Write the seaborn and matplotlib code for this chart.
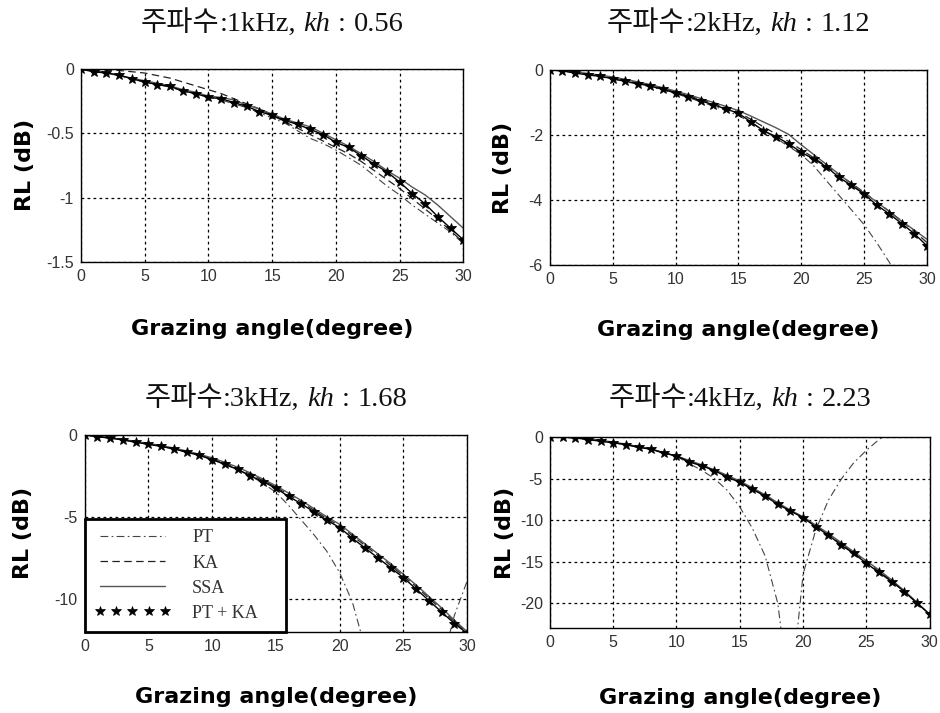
import matplotlib
matplotlib.use("Agg")
import matplotlib.pyplot as plt
import seaborn as sns
import pandas as pd
from matplotlib.offsetbox import TextArea, HPacker, AnnotationBbox
from matplotlib.lines import Line2D

# ---------------- data ----------------
angles = list(range(0, 31))
x_ticks = [0, 5, 10, 15, 20, 25, 30]
x_tick_labels = ["0", "5", "10", "15", "20", "25", "30"]

freq_labels = ["1kHz", "2kHz", "3kHz", "4kHz"]
kh_labels = ["0.56", "1.12", "1.68", "2.23"]
model_names = ["PT", "KA", "SSA", "PT + KA"]

y_limits = [(-1.5, 0), (-6, 0), (-12, 0), (-23, 0)]
y_ticks = [[0, -0.5, -1, -1.5], [0, -2, -4, -6], [0, -5, -10], [0, -5, -10, -15, -20]]
y_tick_labels = [["0", "-0.5", "-1", "-1.5"], ["0", "-2", "-4", "-6"],
                 ["0", "-5", "-10"], ["0", "-5", "-10", "-15", "-20"]]

# 1 kHz
pt_ka_1k = [0, -0.02, -0.03, -0.045, -0.075, -0.10, -0.12, -0.135, -0.17, -0.19, -0.22,
            -0.23, -0.26, -0.29, -0.33, -0.36, -0.40, -0.43, -0.47, -0.51, -0.57,
            -0.61, -0.675, -0.74, -0.80, -0.88, -0.97, -1.05, -1.15, -1.24, -1.33]
ssa_1k = [0, -0.01, -0.03, -0.05, -0.07, -0.09, -0.11, -0.13, -0.16, -0.18, -0.21,
          -0.22, -0.24, -0.28, -0.31, -0.35, -0.39, -0.42, -0.45, -0.50, -0.55,
          -0.60, -0.66, -0.72, -0.79, -0.85, -0.92, -0.98, -1.06, -1.15, -1.24]
ka_1k = [0, 0, -0.01, -0.01, -0.02, -0.03, -0.05, -0.07, -0.10, -0.13, -0.16,
         -0.19, -0.23, -0.27, -0.31, -0.36, -0.41, -0.46, -0.51, -0.56, -0.61,
         -0.66, -0.72, -0.79, -0.86, -0.93, -1.01, -1.09, -1.17, -1.26, -1.35]
pt_1k = [0, -0.02, -0.03, -0.05, -0.08, -0.10, -0.12, -0.14, -0.17, -0.19, -0.22,
         -0.24, -0.27, -0.30, -0.34, -0.38, -0.42, -0.48, -0.54, -0.58, -0.63,
         -0.69, -0.75, -0.83, -0.91, -0.98, -1.06, -1.13, -1.20, -1.27, -1.36]

# 2 kHz
pt_ka_2k = [0, -0.03, -0.10, -0.15, -0.20, -0.27, -0.35, -0.42, -0.50, -0.60, -0.71,
            -0.82, -0.95, -1.07, -1.20, -1.33, -1.60, -1.87, -2.05, -2.27, -2.53,
            -2.74, -2.97, -3.30, -3.55, -3.81, -4.15, -4.42, -4.72, -5.03, -5.40]
ssa_2k = [0, -0.02, -0.06, -0.11, -0.16, -0.22, -0.29, -0.37, -0.45, -0.55, -0.65,
          -0.76, -0.88, -1.00, -1.12, -1.25, -1.42, -1.60, -1.78, -1.98, -2.30,
          -2.60, -2.90, -3.20, -3.50, -3.78, -4.05, -4.35, -4.65, -4.92, -5.20]
ka_2k = [0, -0.02, -0.07, -0.12, -0.18, -0.25, -0.32, -0.40, -0.48, -0.57, -0.68,
         -0.79, -0.91, -1.03, -1.16, -1.30, -1.52, -1.75, -1.97, -2.20, -2.45,
         -2.70, -2.95, -3.22, -3.48, -3.76, -4.05, -4.34, -4.64, -4.96, -5.30]
pt_2k = [0, -0.03, -0.09, -0.15, -0.21, -0.28, -0.36, -0.44, -0.52, -0.62, -0.73,
         -0.85, -0.98, -1.11, -1.25, -1.40, -1.62, -1.86, -2.10, -2.35, -2.60,
         -2.95, -3.40, -3.85, -4.30, -4.75, -5.30, -5.90, -6.60, -7.40, -8.20]

# 3 kHz
pt_ka_3k = [0, -0.10, -0.20, -0.30, -0.45, -0.57, -0.70, -0.85, -1.05, -1.25, -1.50,
            -1.80, -2.10, -2.50, -2.85, -3.25, -3.75, -4.20, -4.70, -5.20, -5.65,
            -6.30, -6.90, -7.50, -8.10, -8.70, -9.40, -10.10, -10.80, -11.50, -12.10]
ssa_3k = [0, -0.08, -0.17, -0.27, -0.40, -0.52, -0.65, -0.80, -0.98, -1.18, -1.40,
          -1.67, -1.97, -2.32, -2.70, -3.10, -3.55, -4.00, -4.50, -5.00, -5.45,
          -6.05, -6.65, -7.25, -7.85, -8.50, -9.15, -9.85, -10.55, -11.30, -12.00]
ka_3k = [0, -0.09, -0.18, -0.29, -0.42, -0.55, -0.68, -0.83, -1.02, -1.22, -1.45,
         -1.73, -2.03, -2.40, -2.78, -3.18, -3.65, -4.10, -4.60, -5.10, -5.55,
         -6.15, -6.75, -7.35, -7.95, -8.60, -9.25, -9.95, -10.65, -11.40, -12.05]
pt_3k = [0, -0.10, -0.20, -0.30, -0.45, -0.57, -0.70, -0.85, -1.05, -1.25, -1.50,
         -1.80, -2.10, -2.50, -2.95, -3.50, -4.30, -5.20, -6.10, -7.10, -8.40,
         -10.20, -13.00, -17.00, -22.00, -28.00, -24.00, -18.00, -14.00, -11.00, -8.90]

# 4 kHz
pt_ka_4k = [0, 0, -0.10, -0.30, -0.50, -0.70, -0.90, -1.25, -1.45, -1.95, -2.25,
            -3.00, -3.45, -4.05, -4.80, -5.45, -6.30, -7.10, -8.10, -8.90, -9.70,
            -10.80, -11.80, -13.00, -14.00, -15.20, -16.30, -17.40, -18.60, -20.00, -21.30]
ssa_4k = [0, 0, -0.08, -0.22, -0.40, -0.60, -0.85, -1.15, -1.45, -1.85, -2.30,
          -2.80, -3.35, -3.95, -4.60, -5.30, -6.10, -6.95, -7.90, -8.80, -9.60,
          -10.60, -11.60, -12.70, -13.80, -14.90, -16.00, -17.20, -18.50, -19.90, -21.40]
ka_4k = [0, 0, -0.09, -0.25, -0.45, -0.65, -0.88, -1.20, -1.45, -1.90, -2.28,
         -2.90, -3.40, -4.00, -4.70, -5.40, -6.20, -7.00, -8.00, -8.85, -9.65,
         -10.70, -11.70, -12.85, -13.90, -15.05, -16.15, -17.30, -18.55, -19.95, -21.35]
pt_angles_4k = [0, 1, 2, 3, 4, 5, 6, 7, 8, 9, 10, 11, 12, 13, 14, 15, 16, 17, 18,
                18.5, 19, 19.5, 20, 21, 22, 23, 24, 25, 26, 27]
pt_4k = [0, 0, -0.10, -0.30, -0.50, -0.70, -0.90, -1.25, -1.45, -1.95, -2.30,
         -3.20, -4.00, -5.00, -6.40, -8.40, -11.00, -14.30, -20.00,
         -26.00, -32.00, -24.00, -16.50, -11.20, -7.60, -5.10, -3.10, -1.60, -0.30, 0.90]

panels = [
    (angles, pt_1k, ka_1k, ssa_1k, pt_ka_1k),
    (angles, pt_2k, ka_2k, ssa_2k, pt_ka_2k),
    (angles, pt_3k, ka_3k, ssa_3k, pt_ka_3k),
    (pt_angles_4k, pt_4k, ka_4k, ssa_4k, pt_ka_4k),
]

# ---------------- style ----------------
sns.set_style("white")
plt.rcParams["font.family"] = ["DejaVu Sans"]

styles = {
    "PT": dict(color="#444444", lw=0.8, linestyle=(0, (7, 3, 1.5, 3))),
    "KA": dict(color="#222222", lw=0.9, linestyle=(0, (6, 3.5))),
    "SSA": dict(color="#555555", lw=1.0, linestyle="-"),
    "PT + KA": dict(color="black", lw=1.0, linestyle="-", marker="*",
                    markersize=7, markeredgewidth=0.6, markeredgecolor="black",
                    markerfacecolor="black"),
}

positions = [
    [0.086, 0.633, 0.407, 0.270],
    [0.585, 0.628, 0.401, 0.274],
    [0.090, 0.114, 0.407, 0.276],
    [0.585, 0.119, 0.404, 0.268],
]
title_y = [1.238, 1.241, 1.188, 1.204]
xlabel_y = [-0.352, -0.333, -0.330, -0.366]
ylabel_x = [-0.147, -0.125, -0.160, -0.118]

fig = plt.figure(figsize=(9.4, 7.13), dpi=100)


def add_title(ax, freq, kh, ypos, size=20.5):
    serif = dict(family="Liberation Serif", size=size, color="#111111")
    kor = TextArea("주파수", textprops=dict(family="Noto Sans CJK KR", size=size,
                                          color="#111111"))
    p1 = TextArea(":" + freq + ",", textprops=serif)
    p2 = TextArea("kh", textprops=dict(serif, style="italic"))
    p3 = TextArea(":", textprops=serif)
    p4 = TextArea(kh, textprops=serif)
    inner = HPacker(children=[kor, p1], align="baseline", pad=0, sep=0)
    box = HPacker(children=[inner, p2, p3, p4], align="baseline", pad=0, sep=5.5)
    ab = AnnotationBbox(box, (0.5, ypos), xycoords="axes fraction", frameon=False,
                        box_alignment=(0.5, 0.5), pad=0)
    ax.add_artist(ab)


for i, (pos, data) in enumerate(zip(positions, panels)):
    ax = fig.add_axes(pos)
    pt_x, pt_y, ka_y, ssa_y, ptka_y = data
    series = [
        ("PT", pt_x, pt_y),
        ("KA", angles, ka_y),
        ("SSA", angles, ssa_y),
        ("PT + KA", angles, ptka_y),
    ]
    for name, xs, ys in series:
        df = pd.DataFrame({"angle": xs, "RL": ys})
        sns.lineplot(data=df, x="angle", y="RL", ax=ax, estimator=None,
                     legend=False, **styles[name])

    ax.set_xlim(0, 30)
    ax.set_ylim(*y_limits[i])
    ax.set_xticks(x_ticks)
    ax.set_xticklabels(x_tick_labels)
    ax.set_yticks(y_ticks[i])
    ax.set_yticklabels(y_tick_labels[i])
    ax.tick_params(direction="in", length=3, width=0.8, colors="#333333",
                   labelsize=11.5, pad=5)
    for lab in ax.get_xticklabels() + ax.get_yticklabels():
        lab.set_family("Liberation Sans")
    ax.grid(True, color="black", linestyle=(0, (2.2, 2.6)), linewidth=0.9)
    for sp in ax.spines.values():
        sp.set_color("black")
        sp.set_linewidth(1.0)

    ax.set_xlabel("Grazing angle(degree)", fontsize=16, fontweight="bold",
                  family="DejaVu Sans", va="center", color="black")
    ax.xaxis.set_label_coords(0.5, xlabel_y[i])
    ax.set_ylabel("RL (dB)", fontsize=16, fontweight="bold",
                  family="DejaVu Sans", va="center", color="black")
    ax.yaxis.set_label_coords(ylabel_x[i], 0.5)

    add_title(ax, freq_labels[i], kh_labels[i], title_y[i])

    if i == 2:
        handles = []
        for name in model_names:
            st = dict(styles[name])
            if name == "PT + KA":
                st["linestyle"] = "None"
                st["markersize"] = 7
                st["markeredgewidth"] = 0.5
            handles.append(Line2D([], [], **st))
        leg = ax.legend(handles, model_names, loc="lower left",
                        bbox_to_anchor=(0, 0, 0.527, 1), mode="expand",
                        borderaxespad=0, frameon=True, fancybox=False, numpoints=5,
                        handlelength=4.2, handletextpad=1.2, labelspacing=0.45,
                        borderpad=0.55, prop=dict(family="Liberation Serif", size=13))
        leg.get_frame().set_edgecolor("black")
        leg.get_frame().set_linewidth(2.0)
        leg.get_frame().set_facecolor("white")
        leg.get_frame().set_alpha(1)
        for t in leg.get_texts():
            t.set_color("#333333")

fig.savefig("out.png", dpi=100)
